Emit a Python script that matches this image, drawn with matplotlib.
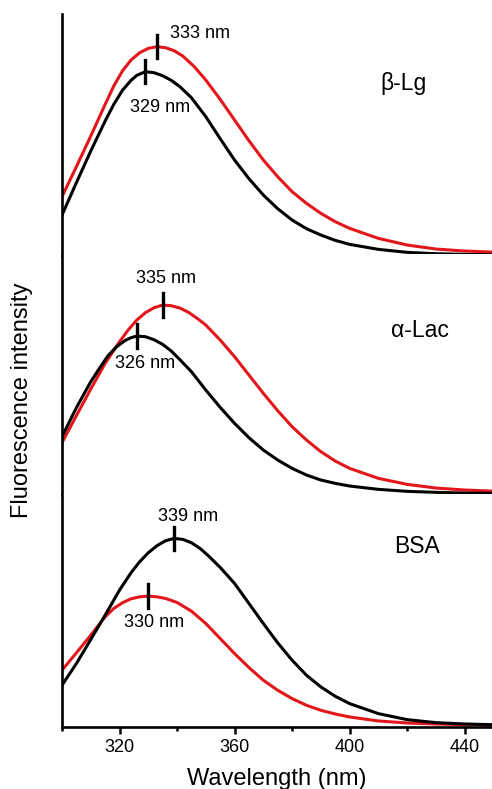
import matplotlib
matplotlib.use('Agg')
import matplotlib.pyplot as plt
from matplotlib.ticker import MultipleLocator

plt.rcParams['font.family'] = ['Liberation Sans', 'DejaVu Sans']

# --- β-Lg ---
wl_blg_b = [300, 305, 310, 315, 318, 321, 324, 326, 329, 332, 335, 338, 341, 345, 350, 355, 360,
            365, 370, 375, 380, 385, 390, 395, 400, 410, 420, 430, 440, 449]
blg_black = [123, 220, 315, 405, 455, 497, 527, 542, 553, 550, 541, 527, 508, 475, 418, 352, 288,
             232, 183, 142, 108, 82, 63, 47, 35, 20, 11, 7, 5, 4]
wl_blg_r = [300, 305, 310, 315, 318, 321, 324, 327, 330, 333, 336, 339, 342, 346, 350, 355, 360,
            365, 370, 375, 380, 385, 390, 395, 400, 410, 420, 430, 440, 449]
blg_red = [178, 268, 360, 455, 510, 555, 588, 610, 623, 628, 625, 616, 600, 568, 528, 470, 408,
           346, 288, 238, 193, 158, 128, 103, 83, 53, 33, 21, 15, 12]

# --- α-Lac ---
wl_lac_b = [300, 305, 310, 313, 316, 319, 322, 324, 326, 329, 332, 335, 338, 341, 345, 350, 355,
            360, 365, 370, 375, 380, 385, 390, 395, 400, 410, 420, 430, 440, 449]
lac_black = [175, 262, 340, 380, 418, 445, 464, 472, 477, 475, 466, 452, 432, 406, 370, 315, 263,
             215, 172, 135, 105, 80, 60, 45, 35, 27, 17, 11, 8, 6, 5]
wl_lac_r = [300, 305, 310, 315, 320, 323, 326, 329, 332, 335, 338, 341, 344, 347, 350, 355, 360,
            365, 370, 375, 380, 385, 390, 395, 400, 410, 420, 430, 440, 449]
lac_red = [157, 238, 318, 395, 460, 495, 525, 547, 562, 570, 568, 561, 548, 530, 510, 465, 415,
           360, 305, 253, 205, 165, 130, 102, 80, 50, 32, 21, 15, 12]

# --- BSA ---
wl_bsa_b = [300, 305, 310, 315, 320, 324, 327, 330, 333, 336, 339, 342, 345, 348, 351, 355, 360,
            365, 370, 375, 380, 385, 390, 395, 400, 410, 420, 430, 440, 449]
bsa_black = [125, 190, 262, 335, 410, 462, 495, 522, 543, 558, 565, 562, 552, 535, 512, 478, 430,
             370, 310, 252, 200, 155, 120, 92, 70, 40, 22, 13, 9, 7]
wl_bsa_r = [300, 305, 310, 315, 318, 321, 324, 327, 330, 333, 336, 340, 345, 350, 355, 360, 365,
            370, 375, 380, 385, 390, 395, 400, 410, 420, 430, 440, 449]
bsa_red = [170, 222, 275, 330, 355, 372, 384, 390, 392, 390, 385, 373, 347, 310, 265, 220, 178,
           140, 110, 85, 65, 50, 39, 30, 18, 12, 9, 7, 6]

proteins = ['β-Lg', 'α-Lac', 'BSA']
peaks_black = [329, 326, 339]
peaks_red = [333, 335, 330]

RED = '#e3161b'

fig = plt.figure(figsize=(4.92, 7.89), dpi=100)
boxes = [(0.126, 0.6755, 0.874, 0.3067),
         (0.126, 0.3726, 0.874, 0.3054),
         (0.126, 0.0786, 0.874, 0.2953)]
ylims = [726, 723, 698]
panels = [
    (wl_blg_b, blg_black, wl_blg_r, blg_red),
    (wl_lac_b, lac_black, wl_lac_r, lac_red),
    (wl_bsa_b, bsa_black, wl_bsa_r, bsa_red),
]
# label spots: black-curve peak label, red-curve peak label, protein name
txt_black = [(334, 447, 'center'), (329, 396, 'center'), (343.8, 630, 'center')]
txt_red = [(337.5, 669, 'left'), (336, 651, 'center'), (332, 312, 'center')]
txt_name = [(418.6, 519), (424.5, 495), (423.5, 540)]

for i, (box, (xb, yb, xr, yr)) in enumerate(zip(boxes, panels)):
    ax = fig.add_axes(box)
    ax.plot(xr, yr, color=RED, lw=2.2, solid_joinstyle='round')
    ax.plot(xb, yb, color='black', lw=2.2, solid_joinstyle='round')
    ax.set_xlim(300, 449.5)
    ax.set_ylim(0, ylims[i])
    for s in ['top', 'right']:
        ax.spines[s].set_visible(False)
    for s in ['left', 'bottom']:
        ax.spines[s].set_linewidth(1.9)
    ax.set_yticks([])

    # peak markers
    pb = peaks_black[i]
    hb = yb[xb.index(pb)]
    ax.plot([pb, pb], [hb - 35, hb + 35], color='black', lw=2.4)
    pr = peaks_red[i]
    hr = yr[xr.index(pr)]
    ax.plot([pr, pr], [hr - 35, hr + 35], color='black', lw=2.4)

    tx, ty, ha = txt_black[i]
    ax.text(tx, ty, f'{pb} nm', ha=ha, va='center', fontsize=13)
    tx, ty, ha = txt_red[i]
    ax.text(tx, ty, f'{pr} nm', ha=ha, va='center', fontsize=13)
    nx, ny = txt_name[i]
    ax.text(nx, ny, proteins[i], ha='center', va='center', fontsize=16.5)

    if i < 2:
        ax.set_xticks([])
    else:
        ax.set_xticks([320, 360, 400, 440])
        ax.xaxis.set_minor_locator(MultipleLocator(20))
        ax.tick_params(axis='x', which='major', direction='out', length=5, width=1.8,
                       labelsize=13, pad=4)
        ax.tick_params(axis='x', which='minor', direction='out', length=3, width=1.8)
        ax.set_xlabel('Wavelength (nm)', fontsize=17, labelpad=8)

fig.text(0.045, 0.493, 'Fluorescence intensity', rotation=90, ha='center', va='center',
         fontsize=17)

fig.savefig('out.png', dpi=100)
